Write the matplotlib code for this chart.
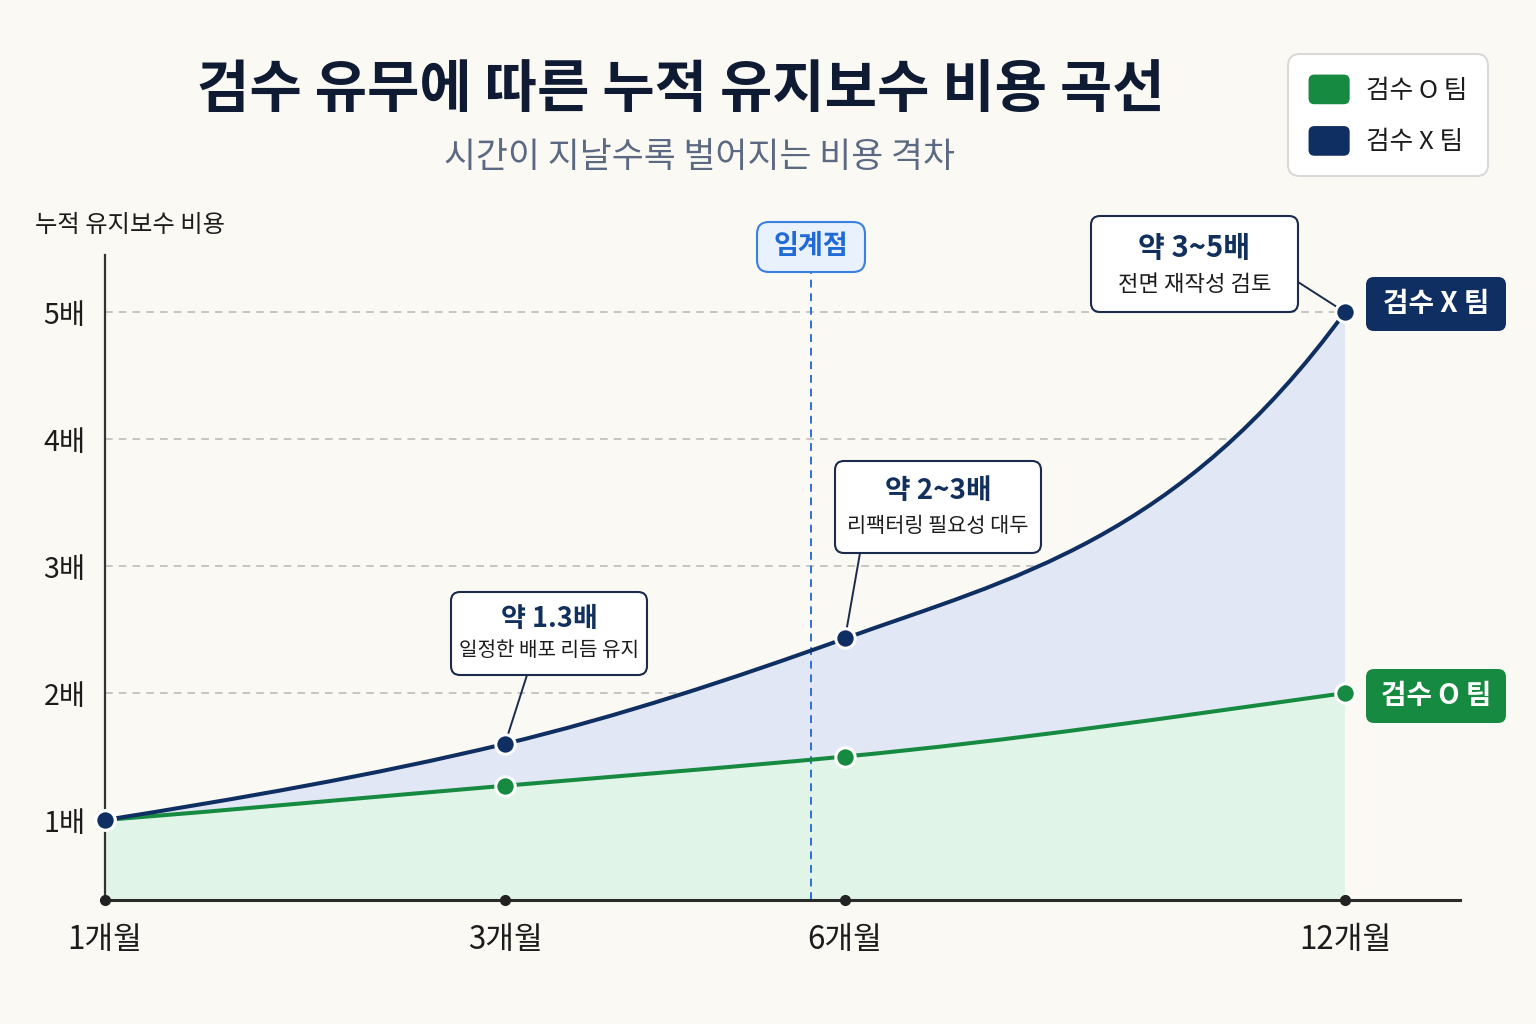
import numpy as np
import matplotlib
matplotlib.use("Agg")
import matplotlib.pyplot as plt
from matplotlib.path import Path
from matplotlib.patches import PathPatch, FancyBboxPatch, Patch
from matplotlib.legend_handler import HandlerPatch

plt.rcParams['font.family'] = ['Noto Sans CJK KR', 'DejaVu Sans']

# ---- data ----
months = [1, 3, 6, 12]
month_labels = ["1개월", "3개월", "6개월", "12개월"]
cost_no_review = [1.0, 1.6, 2.43, 5.0]    # 검수 X 팀
cost_review = [1.0, 1.27, 1.5, 2.0]       # 검수 O 팀
y_ticks = [1, 2, 3, 4, 5]
y_tick_labels = ["1배", "2배", "3배", "4배", "5배"]
critical_month = 5.7
callout_titles = ["약 1.3배", "약 2~3배", "약 3~5배"]
callout_notes = ["일정한 배포 리듬 유지", "리팩터링 필요성 대두", "전면 재작성 검토"]
callout_months = [3, 6, 12]
team_names = ["검수 O 팀", "검수 X 팀"]

title = "검수 유무에 따른 누적 유지보수 비용 곡선"
subtitle = "시간이 지날수록 벌어지는 비용 격차"
ylabel = "누적 유지보수 비용"

# ---- layout / style ----
W, H, DPI = 1536, 1024, 100
AX_L, AX_R, AX_T, AX_B = 105, 1460, 255, 900
TICK_U = [0, 400, 740, 1240]       # tick offsets (px) from the y axis
YLIM = (0.37, 5.45)
PX_PER_VAL = (AX_B - AX_T) / (YLIM[1] - YLIM[0])

# curve tangents in screen slope (px/px) at each point
BLUE_SLOPES = [0.16, 0.24, 0.36, 1.37]
GREEN_SLOPES = [0.08, 0.085, 0.095, 0.14]

BG = "#faf9f4"
NAVY = "#0f2f62"
GREEN = "#168a41"
NAVY_FILL = "#e1e7f4"
GREEN_FILL = "#e1f4e8"
INK = "#1c1c1c"
BOX_EDGE = "#1b2b4b"

CALLOUT_BOXES = [(451, 592, 647, 675), (835, 461, 1041, 553), (1091, 216, 1298, 312)]
CALLOUT_ANCHORS = [(527, 675), (860, 553), (1298, 282)]
CALLOUT_SIZES = [(19.5, 14.5), (20, 15), (21, 16)]
END_BOXES = [(1366, 669, 1506, 723), (1366, 277, 1506, 331)]


def month_to_u(m):
    m = np.asarray(m, dtype=float)
    u = np.interp(m, months, TICK_U)
    lo = (TICK_U[1] - TICK_U[0]) / (months[1] - months[0])
    hi = (TICK_U[-1] - TICK_U[-2]) / (months[-1] - months[-2])
    u = np.where(m < months[0], TICK_U[0] + (m - months[0]) * lo, u)
    u = np.where(m > months[-1], TICK_U[-1] + (m - months[-1]) * hi, u)
    return u


def u_to_month(u):
    u = np.asarray(u, dtype=float)
    m = np.interp(u, TICK_U, months)
    lo = (months[1] - months[0]) / (TICK_U[1] - TICK_U[0])
    hi = (months[-1] - months[-2]) / (TICK_U[-1] - TICK_U[-2])
    m = np.where(u < TICK_U[0], months[0] + (u - TICK_U[0]) * lo, m)
    m = np.where(u > TICK_U[-1], months[-1] + (u - TICK_U[-1]) * hi, m)
    return m


def bezier_verts(xs, ys, slopes):
    """Cubic Hermite through the points, built in screen space, as Bezier vertices in data space."""
    u = month_to_u(xs)
    k = np.asarray(slopes) / PX_PER_VAL
    verts = [(xs[0], ys[0])]
    for i in range(len(xs) - 1):
        h = u[i + 1] - u[i]
        c1 = (float(u_to_month(u[i] + h / 3)), ys[i] + k[i] * h / 3)
        c2 = (float(u_to_month(u[i + 1] - h / 3)), ys[i + 1] - k[i + 1] * h / 3)
        verts += [c1, c2, (xs[i + 1], ys[i + 1])]
    return verts


def px(x, y):
    """figure pixel (top-left origin) -> inches for dpi_scale_trans"""
    return x / DPI, (H - y) / DPI


def fig_box(box, fc, ec, lw, r, z=9):
    x0, y0, x1, y1 = box
    p = FancyBboxPatch(px(x0, y1), (x1 - x0) / DPI, (y1 - y0) / DPI,
                       boxstyle=f"round,pad=0,rounding_size={r / DPI}",
                       fc=fc, ec=ec, lw=lw, transform=fig.dpi_scale_trans, zorder=z)
    fig.add_artist(p)


def fig_text(x, y, s, **kw):
    kw.setdefault("ha", "center")
    kw.setdefault("va", "center")
    fig.text(*px(x, y), s, transform=fig.dpi_scale_trans, **kw)


class RoundSwatch(HandlerPatch):
    def create_artists(self, legend, orig_handle, xdescent, ydescent, width, height, fontsize, trans):
        p = FancyBboxPatch((-xdescent, -ydescent), width, height,
                           boxstyle=f"round,pad=0,rounding_size={height * 0.2}",
                           fc=orig_handle.get_facecolor(), ec="none", transform=trans)
        return [p]


fig = plt.figure(figsize=(W / DPI, H / DPI), dpi=DPI, facecolor=BG)
ax = fig.add_axes([AX_L / W, 1 - AX_B / H, (AX_R - AX_L) / W, (AX_B - AX_T) / H])
ax.set_facecolor(BG)
ax.set_xscale("function", functions=(month_to_u, u_to_month))
ax.set_xlim(months[0], float(u_to_month(AX_R - AX_L)))
ax.set_ylim(*YLIM)
ybot = YLIM[0]

# grid
ax.hlines(y_ticks, months[0], months[-1], colors="#b7b7b7", linestyles=(0, (5, 4)), lw=1.1, zorder=0.5)

# curves and fills
blue_v = bezier_verts(months, cost_no_review, BLUE_SLOPES)
green_v = bezier_verts(months, cost_review, GREEN_SLOPES)
curve_codes = [Path.MOVETO] + [Path.CURVE4] * (len(blue_v) - 1)

green_fill = Path(green_v + [(months[-1], ybot), (months[0], ybot), (months[0], ybot)],
                  curve_codes + [Path.LINETO, Path.LINETO, Path.CLOSEPOLY])
ax.add_patch(PathPatch(green_fill, fc=GREEN_FILL, ec="none", zorder=1))

band = Path(blue_v + green_v[::-1] + [blue_v[0]],
            curve_codes + [Path.LINETO] + [Path.CURVE4] * (len(green_v) - 1) + [Path.CLOSEPOLY])
ax.add_patch(PathPatch(band, fc=NAVY_FILL, ec="none", zorder=1))

ax.add_patch(PathPatch(Path(green_v, curve_codes), fill=False, ec=GREEN, lw=2.9,
                       capstyle="round", joinstyle="round", zorder=3))
ax.add_patch(PathPatch(Path(blue_v, curve_codes), fill=False, ec=NAVY, lw=2.9,
                       capstyle="round", joinstyle="round", zorder=4))

# critical point
ax.axvline(critical_month, color="#2f6fd6", ls=(0, (4, 3)), lw=1.4, zorder=2)

# markers
ax.plot(months, cost_review, "o", ms=14, mfc=GREEN, mec="white", mew=2.2, zorder=7, clip_on=False)
ax.plot(months, cost_no_review, "o", ms=14, mfc=NAVY, mec="white", mew=2.2, zorder=8, clip_on=False)
ax.plot(months, [ybot] * len(months), "o", ms=7, color="#222222", zorder=6, clip_on=False)

# axes styling
for s in ("top", "right"):
    ax.spines[s].set_visible(False)
ax.spines["left"].set_linewidth(1.6)
ax.spines["left"].set_color("#333333")
ax.spines["bottom"].set_linewidth(2.2)
ax.spines["bottom"].set_color("#2a2a2a")
ax.set_xticks(months, month_labels)
ax.set_yticks(y_ticks, y_tick_labels)
ax.minorticks_off()
ax.tick_params(axis="x", length=0, pad=17, labelsize=22.5, labelcolor=INK)
ax.tick_params(axis="y", length=0, pad=14, labelsize=20.5, labelcolor=INK)
for lab in ax.get_xticklabels() + ax.get_yticklabels():
    lab.set_fontweight("medium")

# callouts
for i in range(len(callout_titles)):
    box = CALLOUT_BOXES[i]
    x0, y0, x1, y1 = box
    fig_box(box, "white", BOX_EDGE, 1.5, 9)
    cx, h = (x0 + x1) / 2, y1 - y0
    s1, s2 = CALLOUT_SIZES[i]
    fig_text(cx, y0 + 0.33 * h, callout_titles[i], fontsize=s1, fontweight="bold", color="#12305e", zorder=10)
    fig_text(cx, y0 + 0.71 * h, callout_notes[i], fontsize=s2, fontweight="medium", color=INK, zorder=10)
    m = callout_months[i]
    val = cost_no_review[months.index(m)]
    ax.annotate("", xy=(m, val), xycoords="data",
                xytext=(CALLOUT_ANCHORS[i][0], H - CALLOUT_ANCHORS[i][1]), textcoords="figure pixels",
                arrowprops=dict(arrowstyle="-", color=BOX_EDGE, lw=1.4, shrinkA=0, shrinkB=0),
                annotation_clip=False, zorder=6.5)

# end labels
for box, name, col in zip(END_BOXES, team_names, [GREEN, NAVY]):
    fig_box(box, col, "none", 0, 8)
    fig_text((box[0] + box[2]) / 2, (box[1] + box[3]) / 2, name, fontsize=20,
             fontweight="bold", color="white", zorder=10)

# critical label
fig_box((757, 222, 865, 272), "#e8f1fc", "#3a80e0", 1.5, 12)
fig_text(811, 246, "임계점", fontsize=19.5, fontweight="bold", color="#1f6ad6", zorder=10)

# titles
fig_text(681, 90, title, fontsize=41, fontweight="black", color="#0f1b33")
fig_text(700, 158, subtitle, fontsize=25, fontweight="medium", color="#5b6a82")
fig_text(35, 225, ylabel, fontsize=17.5, fontweight="medium", color=INK, ha="left")

# legend
handles = [Patch(facecolor=GREEN), Patch(facecolor=NAVY)]
leg = fig.legend(handles, team_names, handler_map={Patch: RoundSwatch()},
                 loc="upper left", bbox_to_anchor=(1288 / W, 1 - 54 / H), borderaxespad=0,
                 prop={"size": 18.5, "weight": "medium"}, labelcolor=INK,
                 handlelength=1.6, handleheight=1.4, handletextpad=0.65,
                 labelspacing=0.85, borderpad=0.8, frameon=True)
frame = leg.get_frame()
frame.set_boxstyle("round", pad=0, rounding_size=0.45)
frame.set_edgecolor("#d9d9d9")
frame.set_linewidth(1.5)
frame.set_facecolor("white")
frame.set_alpha(1)

fig.savefig("out.png", dpi=DPI, facecolor=BG)
